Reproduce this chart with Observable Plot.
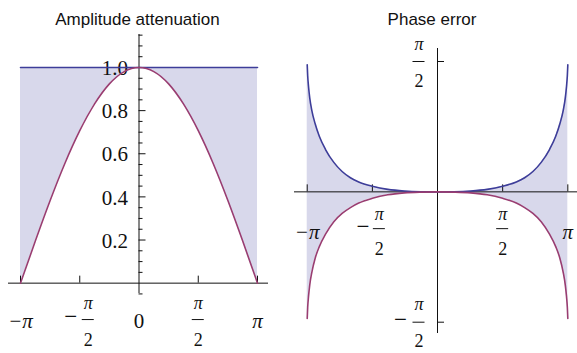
<!DOCTYPE html>
<html><head><meta charset="utf-8">
<script src="https://cdn.jsdelivr.net/npm/d3@7"></script>
<script src="https://cdn.jsdelivr.net/npm/@observablehq/plot@0.6"></script>
<style>
body{margin:0;background:#fff;}
#wrap{position:relative;width:577px;height:353px;overflow:hidden;background:#fff;}
#left{position:absolute;left:0;top:0;}
#right{position:absolute;left:290px;top:0;}
svg{display:block;}
</style></head><body>
<div id="wrap"><div id="left"></div><div id="right"></div></div>
<script>
const PI = Math.PI;

// ---- Amplitude attenuation panel data ----
const ampX = [-3.1416,-2.7489,-2.3562,-1.9635,-1.5708,-1.1781,-0.7854,-0.3927,0,0.3927,0.7854,1.1781,1.5708,1.9635,2.3562,2.7489,3.1416];
const ampCurve = [0,0.195,0.383,0.556,0.707,0.831,0.924,0.981,1,0.981,0.924,0.831,0.707,0.556,0.383,0.195,0];
const ampUnity = [1,1,1,1,1,1,1,1,1,1,1,1,1,1,1,1,1];
const ampMajorTicks = [0.2,0.4,0.6,0.8,1.0];
const ampMajorLabels = ["0.2","0.4","0.6","0.8","1.0"];
const ampMinorTicks = [-0.05,0.05,0.1,0.15,0.25,0.3,0.35,0.45,0.5,0.55,0.65,0.7,0.75,0.85,0.9,0.95,1.05,1.1,1.15];

// ---- Phase error panel data ----
const phaseX = [-3.1416,-3.13,-3.11,-3.08,-3.03,-2.95,-2.85,-2.7,-2.5,-2.3,-2.1,-1.9,-1.57,-1.2,-0.8,-0.4,0,0.4,0.8,1.2,1.57,1.9,2.1,2.3,2.5,2.7,2.85,2.95,3.03,3.08,3.11,3.13,3.1416];
const phaseBlue = [1.53,1.40,1.27,1.13,0.98,0.82,0.67,0.51,0.355,0.245,0.17,0.12,0.068,0.03,0.01,0.002,0,0.002,0.01,0.03,0.068,0.12,0.17,0.245,0.355,0.51,0.67,0.82,0.98,1.13,1.27,1.40,1.53];
const phasePurple = [-1.525,-1.39,-1.26,-1.12,-0.97,-0.80,-0.66,-0.51,-0.36,-0.26,-0.19,-0.135,-0.078,-0.035,-0.012,-0.003,0,-0.003,-0.012,-0.035,-0.078,-0.135,-0.19,-0.26,-0.36,-0.51,-0.66,-0.80,-0.97,-1.12,-1.26,-1.39,-1.525];
const phaseYTicks = [-PI/2, PI/2];
const phaseYSigns = ["\u2212", ""];

// ---- shared tick data ----
const piTicks = [-PI, -PI/2, PI/2, PI];
const ampPiX = [-PI, PI];
const ampPiText = ["\u2212\u03C0", "\u03C0"];
const ampZeroX = [0];
const ampZeroText = ["0"];
const phasePiX = [-PI, PI];
const phasePiText = ["\u2212\u03C0", "\u03C0"];
const fracX = [-PI/2, PI/2];
const fracSigns = ["\u2212", ""];

// ---- styles ----
const BLUE = "#3d3d99", PURPLE = "#993d71", FILL = "#d8d8eb", INK = "#111";
const SERIF = "'Liberation Serif', 'Times New Roman', Times, serif";
const SANS = "'Liberation Sans', Arial, Helvetica, sans-serif";
const LABEL_FS = 21, FRAC_FS = 18, SIGN_FS = 23, TITLE_FS = 17;

function xFractions(values, signs, c) {
  const marks = [];
  values.forEach((v, i) => {
    const s = signs[i];
    const sh = s ? c.shift : 0;
    marks.push(Plot.text([v], {x: d => d, y: () => 0, text: () => "\u03C0", dx: sh, dy: c.numDy, fontSize: FRAC_FS, fontFamily: SERIF, fontStyle: "italic", fill: INK}));
    marks.push(Plot.ruleY([v], {x1: d => d, x2: d => d, y: () => 0, dx: sh, dy: c.barDy, insetLeft: -6, insetRight: -6, stroke: INK, strokeWidth: 1}));
    marks.push(Plot.text([v], {x: d => d, y: () => 0, text: () => "2", dx: sh, dy: c.denDy, fontSize: FRAC_FS, fontFamily: SERIF, fill: INK}));
    if (s) marks.push(Plot.text([v], {x: d => d, y: () => 0, text: () => s, dx: c.signDx, dy: c.barDy - 2.5, fontSize: SIGN_FS, fontFamily: SERIF, fill: INK}));
  });
  return marks;
}

function yFractions(values, signs, c) {
  const marks = [];
  values.forEach((v, i) => {
    const s = signs[i];
    marks.push(Plot.text([v], {x: () => 0, y: d => d, text: () => "\u03C0", dx: c.dx, dy: c.numDy, fontSize: FRAC_FS, fontFamily: SERIF, fontStyle: "italic", fill: INK}));
    marks.push(Plot.ruleY([v], {x1: () => 0, x2: () => 0, y: d => d, dx: c.dx, insetLeft: -6, insetRight: -6, stroke: INK, strokeWidth: 1}));
    marks.push(Plot.text([v], {x: () => 0, y: d => d, text: () => "2", dx: c.dx, dy: c.denDy, fontSize: FRAC_FS, fontFamily: SERIF, fill: INK}));
    if (s) marks.push(Plot.text([v], {x: () => 0, y: d => d, text: () => s, dx: c.signDx, dy: -2.5, fontSize: SIGN_FS, fontFamily: SERIF, fill: INK}));
  });
  return marks;
}

// ---- Amplitude plot ----
const ampRows = ampX.map((x, i) => ({x, a: ampCurve[i], u: ampUnity[i]}));
const left = Plot.plot({
  width: 290, height: 353,
  marginLeft: 8, marginRight: 22, marginTop: 34, marginBottom: 60,
  x: {domain: [-3.46, 3.433], axis: null},
  y: {domain: [-0.048, 1.153], axis: null},
  style: {background: "transparent", overflow: "visible"},
  marks: [
    Plot.areaY(ampRows, {x: "x", y1: "a", y2: "u", fill: FILL, curve: "natural"}),
    Plot.ruleY([0], {stroke: INK, strokeWidth: 1}),
    Plot.ruleX([0], {stroke: INK, strokeWidth: 1}),
    Plot.ruleX(piTicks, {x: d => d, y1: () => 0, y2: () => 0, insetTop: -7, stroke: INK}),
    Plot.ruleY(ampMajorTicks, {y: d => d, x1: () => 0, x2: () => 0, insetRight: -7, stroke: INK}),
    Plot.ruleY(ampMinorTicks, {y: d => d, x1: () => 0, x2: () => 0, insetRight: -4, stroke: INK}),
    Plot.text(ampMajorTicks, {x: () => 0, y: d => d, text: (d, i) => ampMajorLabels[i], textAnchor: "end", dx: -11, dy: 1, fontSize: LABEL_FS, fontFamily: SERIF, fill: INK}),
    Plot.text(ampPiX, {x: d => d, y: () => 0, text: (d, i) => ampPiText[i], dy: 38.5, fontSize: LABEL_FS, fontFamily: SERIF, fontStyle: "italic", fill: INK}),
    Plot.text(ampZeroX, {x: d => d, y: () => 0, text: (d, i) => ampZeroText[i], dy: 38.5, fontSize: LABEL_FS, fontFamily: SERIF, fill: INK}),
    ...xFractions(fracX, fracSigns, {shift: 8.5, signDx: -9, numDy: 20.5, barDy: 36.4, denDy: 57.5}),
    Plot.line(ampRows, {x: "x", y: "u", stroke: BLUE, strokeWidth: 1.6}),
    Plot.line(ampRows, {x: "x", y: "a", stroke: PURPLE, strokeWidth: 1.6, curve: "natural"}),
    Plot.text(["Amplitude attenuation"], {frameAnchor: "top", text: d => d, dx: -1, dy: -21.5, fontSize: TITLE_FS, fontFamily: SANS, fill: INK})
  ]
});
document.getElementById("left").appendChild(left);

// ---- Phase plot ----
const phaseRows = phaseX.map((x, i) => ({x, b: phaseBlue[i], p: phasePurple[i]}));
const right = Plot.plot({
  width: 287, height: 353,
  marginLeft: 4, marginRight: 0, marginTop: 48, marginBottom: 20,
  x: {domain: [-3.448, 3.375], axis: null},
  y: {domain: [-1.707, 1.7275], axis: null},
  style: {background: "transparent", overflow: "visible"},
  marks: [
    Plot.areaY(phaseRows, {x: "x", y1: "p", y2: "b", fill: FILL, curve: "monotone-x"}),
    Plot.ruleY([0], {stroke: INK, strokeWidth: 1}),
    Plot.ruleX([0], {stroke: INK, strokeWidth: 1}),
    Plot.ruleX(piTicks, {x: d => d, y1: () => 0, y2: () => 0, insetTop: -7, stroke: INK}),
    Plot.ruleY(phaseYTicks, {y: d => d, x1: () => 0, x2: () => 0, insetRight: -7, stroke: INK}),
    Plot.text(phasePiX, {x: d => d, y: () => 0, text: (d, i) => phasePiText[i], dy: 40, fontSize: LABEL_FS, fontFamily: SERIF, fontStyle: "italic", fill: INK}),
    ...xFractions(fracX, fracSigns, {shift: 7, signDx: -9.4, numDy: 22, barDy: 36.8, denDy: 57}),
    ...yFractions(phaseYTicks, phaseYSigns, {dx: -18.5, signDx: -37, numDy: -17.5, denDy: 19.5}),
    Plot.line(phaseRows, {x: "x", y: "b", stroke: BLUE, strokeWidth: 1.6, curve: "monotone-x"}),
    Plot.line(phaseRows, {x: "x", y: "p", stroke: PURPLE, strokeWidth: 1.6, curve: "monotone-x"}),
    Plot.text(["Phase error"], {frameAnchor: "top", text: d => d, dx: -4, dy: -35.5, fontSize: TITLE_FS, fontFamily: SANS, fill: INK})
  ]
});
document.getElementById("right").appendChild(right);
</script>
</body></html>
